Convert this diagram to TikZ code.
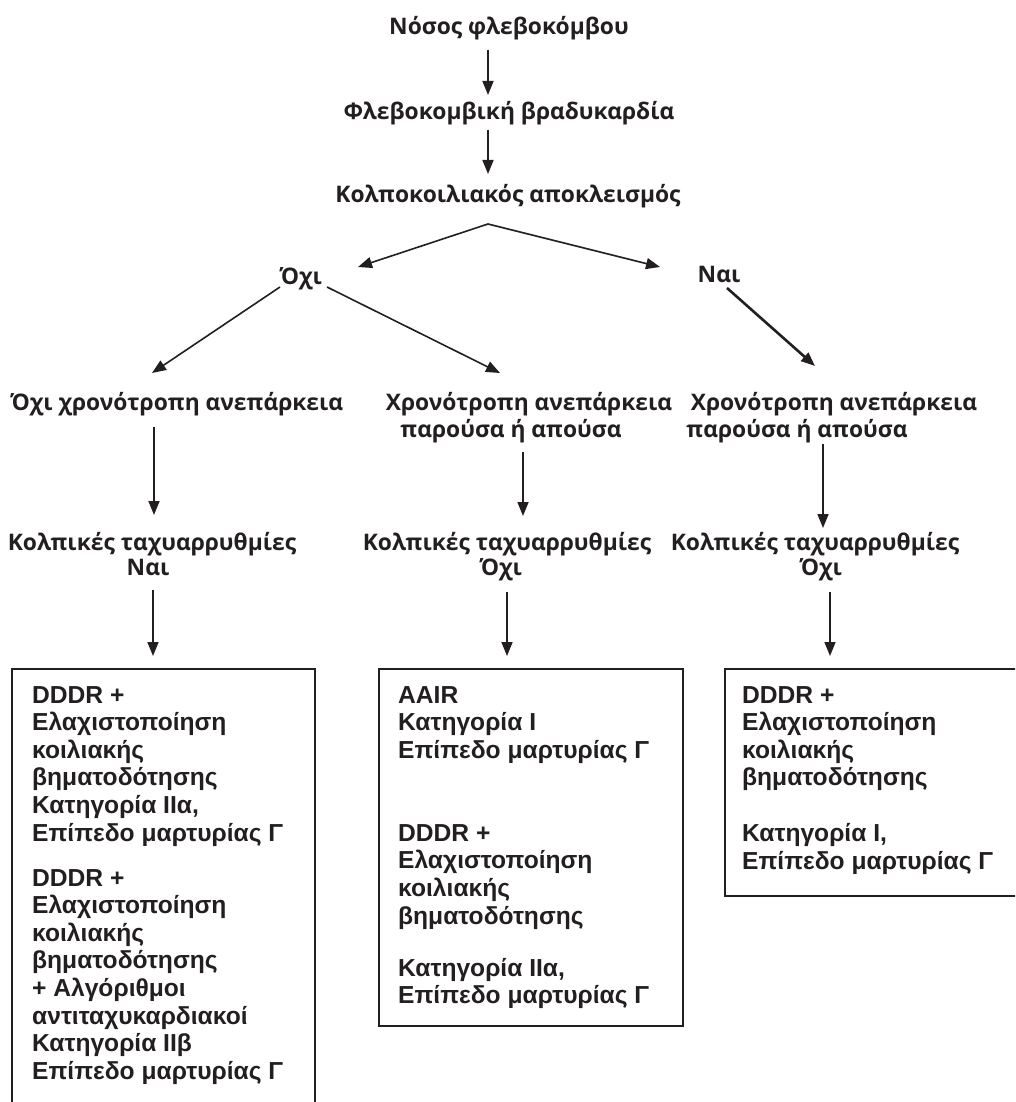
\documentclass[tikz,border=0pt]{standalone}
\usepackage{fontspec}
\setmainfont{Liberation Sans}
\newfontfamily\flowfont{Open Sans}
\newfontfamily\boxfont{Liberation Sans}
\usetikzlibrary{arrows.meta}
\definecolor{ink}{HTML}{231F20}
\begin{document}
\begin{tikzpicture}[x=1pt,y=-1pt,
  flow/.style={font=\flowfont\bfseries\fontsize{22.8}{27}\selectfont, inner sep=0pt, anchor=base, text=ink},
  boxtxt/.style={font=\boxfont\bfseries\fontsize{24.6}{27.6}\selectfont, inner sep=0pt, anchor=north west, align=left, text=ink},
  arr/.style={-{Triangle[length=14pt,width=11pt]}, line width=1.6pt, draw=ink},
  thickarr/.style={arr, line width=2.6pt},
  frame/.style={draw=ink, line width=1.6pt}]
\useasboundingbox (0,0) rectangle (1015,1102);
\fill[white] (0,0) rectangle (1015,1102);
\clip (0,0) rectangle (1015,1102);

% top chain
\node[flow] (t1) at (509,35) {Νόσος φλεβοκόμβου};
\node[flow] (t2) at (509,120) {Φλεβοκομβική βραδυκαρδία};
\node[flow] (t3) at (508,203) {Κολποκοιλιακός αποκλεισμός};
\node[flow] (no) at (301,284) {Όχι};
\node[flow] (yes) at (719,282) {Ναι};

% second level
\node[flow] (l1) at (177,410) {Όχι χρονότροπη ανεπάρκεια};
\node[flow] (m1a) at (529,410) {Χρονότροπη ανεπάρκεια};
\node[flow] (m1b) at (511,437) {παρούσα ή απούσα};
\node[flow] (r1a) at (834,410) {Χρονότροπη ανεπάρκεια};
\node[flow] (r1b) at (797,437) {παρούσα ή απούσα};

% third level
\node[flow] (l2a) at (152,550) {Κολπικές ταχυαρρυθμίες};
\node[flow] (l2b) at (148,575) {Ναι};
\node[flow] (m2a) at (507,550) {Κολπικές ταχυαρρυθμίες};
\node[flow] (m2b) at (501,575) {Όχι};
\node[flow] (r2a) at (815,550) {Κολπικές ταχυαρρυθμίες};
\node[flow] (r2b) at (821,575) {Όχι};

% arrow end points
\coordinate (a1s) at (488,50);  \coordinate (a1e) at (488,95);
\coordinate (a2s) at (488,130); \coordinate (a2e) at (488,174);
\coordinate (apex) at (488,224);
\coordinate (noin) at (358,267); \coordinate (yesin) at (660,267);
\coordinate (nol) at (280,287); \coordinate (nolE) at (152,373);
\coordinate (nor) at (327,287); \coordinate (norE) at (500,373);
\coordinate (yd) at (727,288); \coordinate (ydE) at (815,366);
\coordinate (lv1) at (154,427); \coordinate (lv1E) at (154,515);
\coordinate (mv1) at (523,452); \coordinate (mv1E) at (523,516);
\coordinate (rv1) at (823,444); \coordinate (rv1E) at (823,528);
\coordinate (lv2) at (153,590); \coordinate (lv2E) at (153,656);
\coordinate (mv2) at (507,592); \coordinate (mv2E) at (507,656);
\coordinate (rv2) at (830,592); \coordinate (rv2E) at (830,656);

\draw[arr] (a1s) -- (a1e);
\draw[arr] (a2s) -- (a2e);
\draw[arr] (apex) -- (noin);
\draw[arr] (apex) -- (yesin);
\draw[arr] (nol) -- (nolE);
\draw[arr] (nor) -- (norE);
\draw[thickarr] (yd) -- (ydE);
\draw[arr] (lv1) -- (lv1E);
\draw[arr] (mv1) -- (mv1E);
\draw[arr] (rv1) -- (rv1E);
\draw[arr] (lv2) -- (lv2E);
\draw[arr] (mv2) -- (mv2E);
\draw[arr] (rv2) -- (rv2E);

% boxes
\draw[frame] (12,669) rectangle (315,1120);
\draw[frame] (379,669) rectangle (683,1026);
\draw[frame] (725,669) rectangle (1025,896);

\node[boxtxt] (bl) at (32,686) {DDDR +\\Ελαχιστοποίηση\\κοιλιακής\\βηματοδότησης\\Κατηγορία IIα,\\Επίπεδο μαρτυρίας Γ\\[17.4pt]DDDR +\\Ελαχιστοποίηση\\κοιλιακής\\βηματοδότησης\\+ Αλγόριθμοι\\αντιταχυκαρδιακοί\\Κατηγορία IIβ\\Επίπεδο μαρτυρίας Γ};
\node[boxtxt] (bm) at (398,686) {AAIR\\Κατηγορία I\\Επίπεδο μαρτυρίας Γ\\[55.4pt]DDDR +\\Ελαχιστοποίηση\\κοιλιακής\\βηματοδότησης\\[24.4pt]Κατηγορία IIα,\\Επίπεδο μαρτυρίας Γ};
\node[boxtxt] (br) at (742,686) {DDDR +\\Ελαχιστοποίηση\\κοιλιακής\\βηματοδότησης\\[28.4pt]Κατηγορία I,\\Επίπεδο μαρτυρίας Γ};
\end{tikzpicture}
\end{document}
